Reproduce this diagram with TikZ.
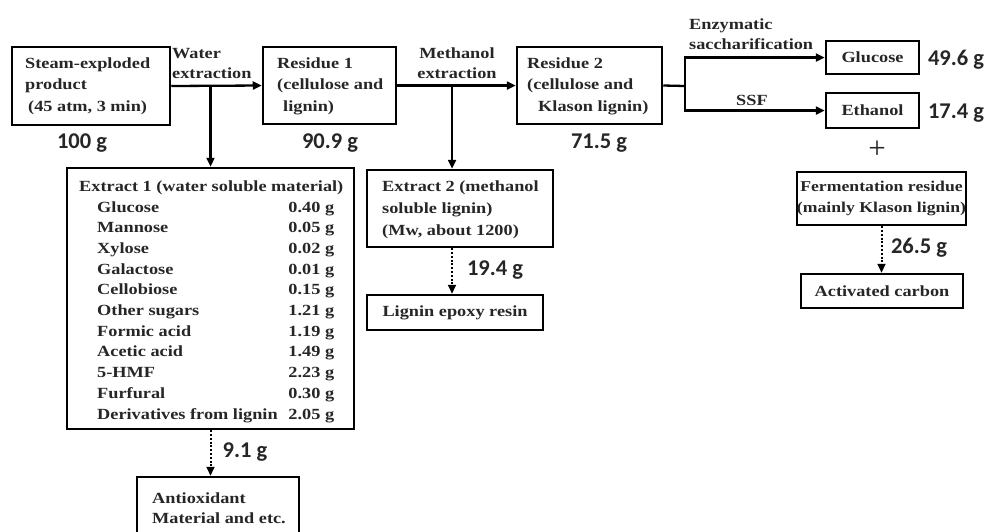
\documentclass[tikz,border=0pt]{standalone}
\usepackage{fontspec}
\setmainfont{Liberation Serif}[FakeStretch=1.18]
\newfontfamily\massfont{Carlito}
\newfontfamily\plainserif{Liberation Serif}
\usetikzlibrary{arrows.meta}
\definecolor{ink}{HTML}{262626}
\begin{document}
\begin{tikzpicture}[x=1pt,y=-1pt,
  box/.style={draw=black, line width=2.5pt, inner sep=0pt, text=ink, align=center,
    font=\bfseries\fontsize{15.5}{21}\selectfont},
  txt/.style={inner sep=0pt, text=ink, align=left, anchor=west,
    font=\bfseries\fontsize{15.5}{21.5}\selectfont},
  lbl/.style={inner sep=0pt, text=ink, font=\bfseries\fontsize{15.5}{20}\selectfont},
  mass/.style={inner sep=0pt, text=ink, font=\massfont\bfseries\fontsize{22.5}{24}\selectfont},
  plus/.style={inner sep=0pt, text=ink, font=\plainserif\fontsize{31}{31}\selectfont},
  flow/.style={line width=2.3pt, -{Triangle[length=9pt,width=8pt]}},
  link/.style={line width=2.3pt},
  dotflow/.style={line width=2pt, dash pattern=on 2pt off 1.8pt, -{Triangle[length=9pt,width=8pt]}}
]
\useasboundingbox (0,0) rectangle (991,531);

% boxes
\node[box, minimum width=158, minimum height=78] (steam) at (91,86) {};
\node[txt] (steamT) at (25,86) {Steam-exploded\\product\\\hspace*{3pt}(45 atm, 3 min)};

\node[box, minimum width=133, minimum height=77] (res1) at (329.5,85.5) {};
\node[txt] (res1T) at (277,86) {Residue 1\\(cellulose and\\\hspace*{6pt}lignin)};

\node[box, minimum width=145, minimum height=77] (res2) at (589.5,85.5) {};
\node[txt] (res2T) at (527,86) {Residue 2\\(cellulose and\\\hspace*{11pt}Klason lignin)};

\node[box, minimum width=93, minimum height=33] (gluc) at (872.5,57.5) {Glucose};
\node[box, minimum width=93, minimum height=35] (eth) at (872.5,110.5) {Ethanol};

\node[box, minimum width=167, minimum height=53, font=\bfseries\fontsize{15}{21}\selectfont] (ferm) at (881.5,198.5) {Fermentation residue\\(mainly Klason lignin)};
\node[box, minimum width=162, minimum height=34] (act) at (882,291) {Activated carbon};

\node[box, minimum width=287, minimum height=261] (ext1) at (210.5,298.5) {};
\node[txt, font=\bfseries\fontsize{15.5}{20.7}\selectfont] (ext1T) at (79,301.5) {%
Extract 1 (water soluble material)\\
\hspace*{18pt}\makebox[175pt][l]{Glucose}\makebox[62pt][r]{0.40 g}\\
\hspace*{18pt}\makebox[175pt][l]{Mannose}\makebox[62pt][r]{0.05 g}\\
\hspace*{18pt}\makebox[175pt][l]{Xylose}\makebox[62pt][r]{0.02 g}\\
\hspace*{18pt}\makebox[175pt][l]{Galactose}\makebox[62pt][r]{0.01 g}\\
\hspace*{18pt}\makebox[175pt][l]{Cellobiose}\makebox[62pt][r]{0.15 g}\\
\hspace*{18pt}\makebox[175pt][l]{Other sugars}\makebox[62pt][r]{1.21 g}\\
\hspace*{18pt}\makebox[175pt][l]{Formic acid}\makebox[62pt][r]{1.19 g}\\
\hspace*{18pt}\makebox[175pt][l]{Acetic acid}\makebox[62pt][r]{1.49 g}\\
\hspace*{18pt}\makebox[175pt][l]{5-HMF}\makebox[62pt][r]{2.23 g}\\
\hspace*{18pt}\makebox[175pt][l]{Furfural}\makebox[62pt][r]{0.30 g}\\
\hspace*{18pt}\makebox[175pt][l]{Derivatives from lignin}\makebox[62pt][r]{2.05 g}};

\node[box, minimum width=186, minimum height=77] (ext2) at (460,208.5) {};
\node[txt, font=\bfseries\fontsize{15.5}{22}\selectfont] (ext2T) at (382,210) {Extract 2 (methanol\\soluble lignin)\\(Mw, about 1200)};

\node[box, minimum width=176, minimum height=35] (lig) at (455,312.5) {Lignin epoxy resin};

\node[box, minimum width=162, minimum height=68] (anti) at (218,511) {};
\node[txt, font=\bfseries\fontsize{15.5}{19.5}\selectfont] (antiT) at (152,508) {Antioxidant\\Material and etc.};

% connectors
\coordinate (b1) at (210.5,86);
\coordinate (b2) at (452,86);
\coordinate (b3) at (685,86);
\draw[flow] (steam.east) -- (res1.west);
\draw[flow] (b1) -- (ext1.north);
\draw[flow] (res1.east) -- (res2.west);
\draw[flow] (b2) -- (b2 |- ext2.north);
\draw[link] (res2.east) -- (b3);
\draw[flow] (b3) |- (gluc.west);
\draw[flow] (b3) |- (eth.west);
\draw[dotflow] (ext1.south) -- (ext1.south |- anti.north);
\draw[dotflow] (b2 |- ext2.south) -- (b2 |- lig.north);
\draw[dotflow] (ferm.south) -- (ferm.south |- act.north);

% labels
\node[lbl, align=left, anchor=west] (wl) at (172,63) {Water\\extraction};
\node[lbl, align=center] (ml) at (457,63) {Methanol\\extraction};
\node[lbl, align=left, anchor=west] (el) at (689,34) {Enzymatic\\saccharification};
\node[lbl] (ssf) at (752,100) {SSF};
\node[plus] (pl) at (877,150) {+};

% masses
\node[mass] (m1) at (82,143) {100 g};
\node[mass] (m2) at (330,143) {90.9 g};
\node[mass] (m3) at (599,143) {71.5 g};
\node[mass] (m4) at (956,60) {49.6 g};
\node[mass] (m5) at (956,113) {17.4 g};
\node[mass] (m6) at (919,248) {26.5 g};
\node[mass] (m7) at (495,270) {19.4 g};
\node[mass] (m8) at (245,452) {9.1 g};
\end{tikzpicture}
\end{document}
